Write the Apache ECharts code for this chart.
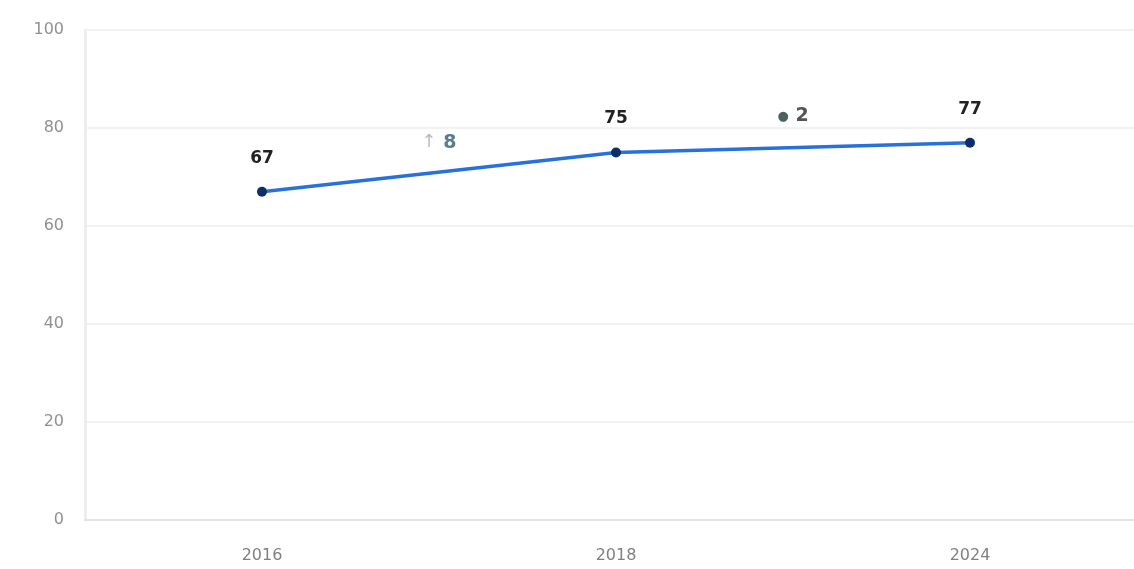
<!DOCTYPE html>
<html><head><meta charset="utf-8">
<script src="https://cdn.jsdelivr.net/npm/echarts@6/dist/echarts.min.js"></script>
<style>html,body{margin:0;padding:0;background:#fff;overflow:hidden}#c{width:1147px;height:569px}</style>
</head><body><div id="c"></div>
<script>
const categories = ['2016', '2018', '2024'];
const values = [67, 75, 77];
const annoX = [0.5, 1.5];
const annoY = [77, 82.4];
const annoArrow = ['↑', '●'];
const annoText = ['8', '2'];

const FF = 'DejaVu Sans, sans-serif';
const chart = echarts.init(document.getElementById('c'));
chart.setOption({
  animation: false,
  backgroundColor: '#fff',
  grid: { left: 85, top: 30, right: 0, height: 490 },
  xAxis: [{
    type: 'category', data: categories, boundaryGap: true,
    axisLine: { show: true, lineStyle: { color: '#e2e2e2', width: 2 } },
    axisTick: { show: false },
    axisLabel: { color: '#808080', fontSize: 16, margin: 28, fontFamily: FF },
    splitLine: { show: false }
  }, {
    type: 'value', min: -0.5, max: 2.5, show: false
  }],
  yAxis: {
    type: 'value', min: 0, max: 100, interval: 20,
    axisLine: { show: true, onZero: false, lineStyle: { color: '#eeeeee', width: 3 } },
    axisTick: { show: false },
    axisLabel: { color: '#909090', fontSize: 16, margin: 21, fontFamily: FF },
    splitLine: { show: true, lineStyle: { color: '#eeeeee', width: 1.5 } }
  },
  series: [{
    type: 'line', data: values, xAxisIndex: 0,
    symbol: 'circle', symbolSize: 10,
    lineStyle: { color: '#2870dc', width: 3.5 },
    itemStyle: { color: '#0d2f66' },
    label: { show: true, position: 'top', distance: 20, color: '#222', fontSize: 17, fontWeight: 'bold', fontFamily: FF }
  }, {
    type: 'scatter', xAxisIndex: 1, symbolSize: 0,
    data: annoX.map((x, i) => [x, annoY[i], annoArrow[i], annoText[i]]),
    label: {
      show: true, position: 'inside',
      formatter: p => (p.dataIndex === 0 ? '{a|' : '{d|') + p.data[2] + '}  ' + (p.dataIndex === 0 ? '{n|' : '{m|') + p.data[3] + '}',
      rich: {
        a: { color: '#aaa', fontSize: 18, fontFamily: FF },
        d: { color: '#1e3a3a', fontSize: 13, fontFamily: FF },
        n: { color: '#2e5d72', fontSize: 19, fontWeight: 'bold', fontFamily: FF },
        m: { color: '#2a2a2a', fontSize: 19, fontWeight: 'bold', fontFamily: FF }
      }
    }
  }]
});
</script></body></html>
